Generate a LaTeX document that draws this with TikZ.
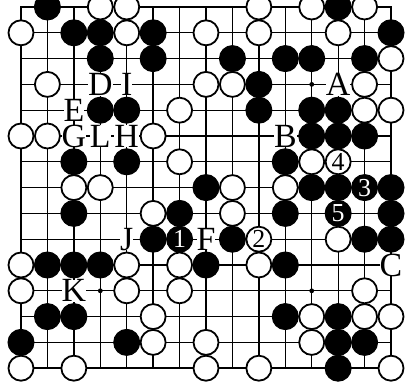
\documentclass[tikz,border=0pt]{standalone}
\usepackage{fontspec}
\setmainfont{Liberation Serif}

\begin{document}
\begin{tikzpicture}[
  x=26.43bp, y=-25.8bp,
  gridline/.style={line width=1.3bp},
  edgeline/.style={line width=2.6bp},
  bstone/.style={circle,fill=black,draw=black,line width=1bp,minimum size=26bp,inner sep=0pt,text=white,font=\fontsize{26}{26}\selectfont},
  wstone/.style={circle,fill=white,draw=black,line width=1.8bp,minimum size=25bp,inner sep=0pt,font=\fontsize{26}{26}\selectfont},
  lbl/.style={fill=white,inner sep=0pt,font=\fontsize{34}{34}\selectfont}
]
  \useasboundingbox (-0.7946,-0.2713) rectangle (14.567,14.535);
  \clip (-0.7946,-0.2713) rectangle (14.567,14.535);
  % board
  \foreach \i in {1,...,13} {
    \draw[gridline] (\i,0) -- (\i,14);
    \draw[gridline] (0,\i) -- (14,\i);
  }
  \draw[edgeline] (0,0) rectangle (14,14);
  \foreach \c/\r in {3/3,11/3,3/11,11/11,7/7}
    \fill (\c,\r) circle (2.4bp);
  % black stones
  \foreach \c/\r in {1/0,12/0, 2/1,3/1,5/1,14/1, 3/2,5/2,8/2,10/2,11/2,13/2, 9/3,
      3/4,4/4,9/4,11/4,12/4, 11/5,12/5,13/5, 2/6,4/6,10/6, 7/7,11/7,12/7,14/7,
      2/8,6/8,10/8,14/8, 5/9,8/9,13/9,14/9, 1/10,2/10,3/10,7/10,10/10,
      1/12,2/12,10/12,12/12, 0/13,4/13,12/13,13/13, 12/14}
    \node[bstone] (b\c-\r) at (\c,\r) {};
  % white stones
  \foreach \c/\r in {3/0,4/0,9/0,11/0,13/0, 0/1,4/1,7/1,9/1,12/1, 14/2, 1/3,7/3,8/3,13/3,
      6/4,13/4,14/4, 0/5,1/5,5/5, 6/6,11/6, 2/7,3/7,8/7,10/7, 5/8,8/8, 12/9,
      0/10,4/10,6/10,9/10, 0/11,4/11,6/11,13/11, 5/12,11/12,13/12,14/12,
      5/13,7/13,11/13, 0/14,2/14,7/14,9/14,14/14}
    \node[wstone] (w\c-\r) at (\c,\r) {};
  % numbered moves
  \node[bstone] (m1) at (6,9) {1};
  \node[wstone] (m2) at (9,9) {2};
  \node[bstone] (m3) at (13,7) {3};
  \node[wstone] (m4) at (12,6) {4};
  \node[bstone] (m5) at (12,8) {5};
  % letters
  \node[lbl] (A) at (12,3) {A};
  \node[lbl] (B) at (10,5) {B};
  \node[lbl] (C) at (14,10) {C};
  \node[lbl] (D) at (3,3) {D};
  \node[lbl] (E) at (2,4) {E};
  \node[lbl] (F) at (7,9) {F};
  \node[lbl] (G) at (2,5) {G};
  \node[lbl] (H) at (4,5) {H};
  \node[lbl] (I) at (4,3) {I};
  \node[lbl] (J) at (4,9) {J};
  \node[lbl] (K) at (2,11) {K};
  \node[lbl] (L) at (3,5) {L};
\end{tikzpicture}
\end{document}
